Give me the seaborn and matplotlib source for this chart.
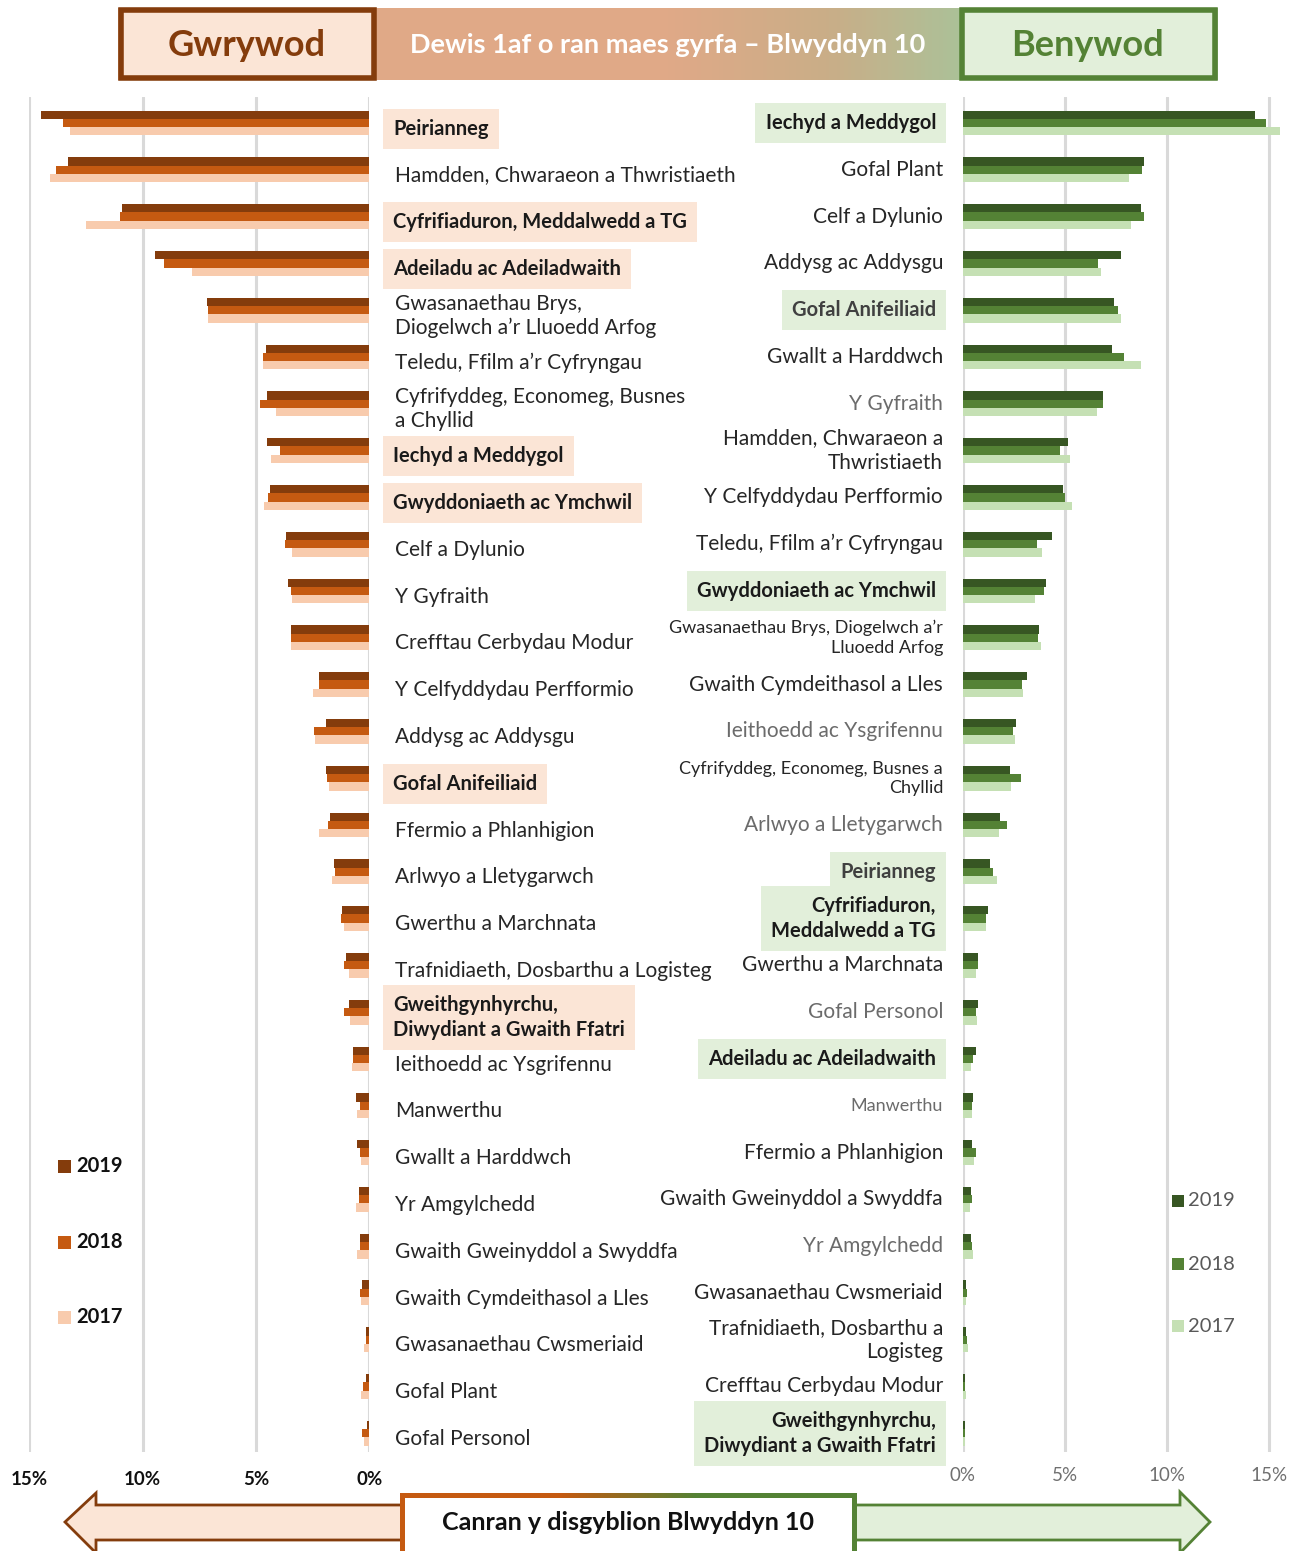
import numpy as np
import pandas as pd
import matplotlib
matplotlib.use("Agg")
import matplotlib.pyplot as plt
import seaborn as sns
from matplotlib.patches import Rectangle, Polygon
from matplotlib.colors import LinearSegmentedColormap
from matplotlib.transforms import blended_transform_factory

years = ["2019", "2018", "2017"]

# Gwrywod (boys), top to bottom
male_cats = ["Peirianneg", "Hamdden, Chwaraeon a Thwristiaeth", "Cyfrifiaduron, Meddalwedd a TG",
             "Adeiladu ac Adeiladwaith", "Gwasanaethau Brys, Diogelwch a’r Lluoedd Arfog",
             "Teledu, Ffilm a’r Cyfryngau", "Cyfrifyddeg, Economeg, Busnes a Chyllid",
             "Iechyd a Meddygol", "Gwyddoniaeth ac Ymchwil", "Celf a Dylunio", "Y Gyfraith",
             "Crefftau Cerbydau Modur", "Y Celfyddydau Perfformio", "Addysg ac Addysgu",
             "Gofal Anifeiliaid", "Ffermio a Phlanhigion", "Arlwyo a Lletygarwch",
             "Gwerthu a Marchnata", "Trafnidiaeth, Dosbarthu a Logisteg",
             "Gweithgynhyrchu, Diwydiant a Gwaith Ffatri", "Ieithoedd ac Ysgrifennu", "Manwerthu",
             "Gwallt a Harddwch", "Yr Amgylchedd", "Gwaith Gweinyddol a Swyddfa",
             "Gwaith Cymdeithasol a Lles", "Gwasanaethau Cwsmeriaid", "Gofal Plant", "Gofal Personol"]
male_labels = ["Peirianneg", "Hamdden, Chwaraeon a Thwristiaeth", "Cyfrifiaduron, Meddalwedd a TG",
               "Adeiladu ac Adeiladwaith", "Gwasanaethau Brys,\nDiogelwch a’r Lluoedd Arfog",
               "Teledu, Ffilm a’r Cyfryngau", "Cyfrifyddeg, Economeg, Busnes\na Chyllid",
               "Iechyd a Meddygol", "Gwyddoniaeth ac Ymchwil", "Celf a Dylunio", "Y Gyfraith",
               "Crefftau Cerbydau Modur", "Y Celfyddydau Perfformio", "Addysg ac Addysgu",
               "Gofal Anifeiliaid", "Ffermio a Phlanhigion", "Arlwyo a Lletygarwch",
               "Gwerthu a Marchnata", "Trafnidiaeth, Dosbarthu a Logisteg",
               "Gweithgynhyrchu,\nDiwydiant a Gwaith Ffatri", "Ieithoedd ac Ysgrifennu", "Manwerthu",
               "Gwallt a Harddwch", "Yr Amgylchedd", "Gwaith Gweinyddol a Swyddfa",
               "Gwaith Cymdeithasol a Lles", "Gwasanaethau Cwsmeriaid", "Gofal Plant", "Gofal Personol"]
male_2019 = [14.5, 13.3, 10.9, 9.45, 7.16, 4.56, 4.52, 4.52, 4.36, 3.68, 3.60, 3.44, 2.23, 1.92, 1.92,
             1.72, 1.57, 1.19, 1.04, 0.89, 0.73, 0.57, 0.53, 0.47, 0.42, 0.31, 0.16, 0.16, 0.10]
male_2018 = [13.5, 13.8, 11.0, 9.04, 7.10, 4.67, 4.83, 3.96, 4.48, 3.74, 3.44, 3.44, 2.23, 2.45, 1.88,
             1.82, 1.51, 1.26, 1.10, 1.10, 0.73, 0.42, 0.42, 0.47, 0.42, 0.42, 0.16, 0.26, 0.31]
male_2017 = [13.2, 14.1, 12.5, 7.84, 7.12, 4.67, 4.11, 4.32, 4.64, 3.39, 3.39, 3.45, 2.49, 2.39, 1.78,
             2.23, 1.66, 1.10, 0.89, 0.84, 0.78, 0.53, 0.37, 0.59, 0.53, 0.37, 0.22, 0.37, 0.22]
male_highlight = ["Peirianneg", "Cyfrifiaduron, Meddalwedd a TG", "Adeiladu ac Adeiladwaith",
                  "Iechyd a Meddygol", "Gwyddoniaeth ac Ymchwil", "Gofal Anifeiliaid",
                  "Gweithgynhyrchu, Diwydiant a Gwaith Ffatri"]

# Benywod (girls), top to bottom
female_cats = ["Iechyd a Meddygol", "Gofal Plant", "Celf a Dylunio", "Addysg ac Addysgu",
               "Gofal Anifeiliaid", "Gwallt a Harddwch", "Y Gyfraith",
               "Hamdden, Chwaraeon a Thwristiaeth", "Y Celfyddydau Perfformio",
               "Teledu, Ffilm a’r Cyfryngau", "Gwyddoniaeth ac Ymchwil",
               "Gwasanaethau Brys, Diogelwch a’r Lluoedd Arfog", "Gwaith Cymdeithasol a Lles",
               "Ieithoedd ac Ysgrifennu", "Cyfrifyddeg, Economeg, Busnes a Chyllid",
               "Arlwyo a Lletygarwch", "Peirianneg", "Cyfrifiaduron, Meddalwedd a TG",
               "Gwerthu a Marchnata", "Gofal Personol", "Adeiladu ac Adeiladwaith", "Manwerthu",
               "Ffermio a Phlanhigion", "Gwaith Gweinyddol a Swyddfa", "Yr Amgylchedd",
               "Gwasanaethau Cwsmeriaid", "Trafnidiaeth, Dosbarthu a Logisteg",
               "Crefftau Cerbydau Modur", "Gweithgynhyrchu, Diwydiant a Gwaith Ffatri"]
female_labels = ["Iechyd a Meddygol", "Gofal Plant", "Celf a Dylunio", "Addysg ac Addysgu",
                 "Gofal Anifeiliaid", "Gwallt a Harddwch", "Y Gyfraith",
                 "Hamdden, Chwaraeon a\nThwristiaeth", "Y Celfyddydau Perfformio",
                 "Teledu, Ffilm a’r Cyfryngau", "Gwyddoniaeth ac Ymchwil",
                 "Gwasanaethau Brys, Diogelwch a’r\nLluoedd Arfog", "Gwaith Cymdeithasol a Lles",
                 "Ieithoedd ac Ysgrifennu", "Cyfrifyddeg, Economeg, Busnes a\nChyllid",
                 "Arlwyo a Lletygarwch", "Peirianneg", "Cyfrifiaduron,\nMeddalwedd a TG",
                 "Gwerthu a Marchnata", "Gofal Personol", "Adeiladu ac Adeiladwaith", "Manwerthu",
                 "Ffermio a Phlanhigion", "Gwaith Gweinyddol a Swyddfa", "Yr Amgylchedd",
                 "Gwasanaethau Cwsmeriaid", "Trafnidiaeth, Dosbarthu a\nLogisteg",
                 "Crefftau Cerbydau Modur", "Gweithgynhyrchu,\nDiwydiant a Gwaith Ffatri"]
female_2019 = [14.32, 8.89, 8.72, 7.74, 7.39, 7.32, 6.86, 5.14, 4.91, 4.39, 4.09, 3.75, 3.16, 2.59,
               2.32, 1.84, 1.32, 1.22, 0.77, 0.77, 0.64, 0.52, 0.46, 0.41, 0.41, 0.16, 0.16, 0.10, 0.10]
female_2018 = [14.84, 8.77, 8.89, 6.64, 7.61, 7.89, 6.86, 4.78, 5.02, 3.64, 3.99, 3.70, 2.89, 2.48,
               2.84, 2.15, 1.50, 1.16, 0.77, 0.64, 0.52, 0.47, 0.64, 0.46, 0.46, 0.23, 0.23, 0.10, 0.10]
female_2017 = [15.52, 8.14, 8.25, 6.75, 7.73, 8.71, 6.57, 5.25, 5.36, 3.86, 3.52, 3.82, 2.95, 2.54,
               2.36, 1.79, 1.68, 1.16, 0.64, 0.68, 0.41, 0.46, 0.57, 0.34, 0.52, 0.16, 0.28, 0.16, 0.10]
female_highlight = ["Iechyd a Meddygol", "Gofal Anifeiliaid", "Gwyddoniaeth ac Ymchwil", "Peirianneg",
                    "Cyfrifiaduron, Meddalwedd a TG", "Adeiladu ac Adeiladwaith",
                    "Gweithgynhyrchu, Diwydiant a Gwaith Ffatri"]
female_grey = ["Y Gyfraith", "Ieithoedd ac Ysgrifennu", "Arlwyo a Lletygarwch", "Peirianneg",
               "Gofal Anifeiliaid", "Gofal Personol", "Manwerthu", "Yr Amgylchedd"]
female_small = ["Gwasanaethau Brys, Diogelwch a’r Lluoedd Arfog",
                "Cyfrifyddeg, Economeg, Busnes a Chyllid", "Manwerthu"]

male_colors = ["#843C0C", "#C55A11", "#F8CBAD"]
female_colors = ["#375623", "#548235", "#C5E0B4"]
brown, green = "#843C0C", "#548235"
peach_bg, green_bg = "#FBE5D6", "#E2EFDA"


def long_form(cats, v19, v18, v17):
    return pd.DataFrame({"cat": cats * 3,
                         "year": [y for y in years for _ in cats],
                         "value": v19 + v18 + v17})


sns.set_theme(style="white")
plt.rcParams['font.family'] = ['Lato', 'DejaVu Sans']

W, H = 1305, 1551
fig = plt.figure(figsize=(W / 100, H / 100), dpi=100)
bottom, height = 1 - 1452 / H, 1355 / H
axL = fig.add_axes([29.3 / W, bottom, 340 / W, height])
axR = fig.add_axes([962.7 / W, bottom, 327 / W, height])

sns.barplot(data=long_form(male_cats, male_2019, male_2018, male_2017), y="cat", x="value",
            hue="year", hue_order=years, order=male_cats, palette=male_colors, orient="h",
            width=0.53, ax=axL, legend=False, saturation=1, linewidth=0)
sns.barplot(data=long_form(female_cats, female_2019, female_2018, female_2017), y="cat", x="value",
            hue="year", hue_order=years, order=female_cats, palette=female_colors, orient="h",
            width=0.53, ax=axR, legend=False, saturation=1, linewidth=0)

axL.set_xlim(15, 0)
axR.set_xlim(0, 16)
for ax in (axL, axR):
    ax.set_ylim(28.4, -0.556)
    ax.set_xticks([0, 5, 10, 15])
    ax.set_xticklabels(["0%", "5%", "10%", "15%"])
    ax.set_yticks([])
    ax.set_xlabel("")
    ax.set_ylabel("")
    for s in ax.spines.values():
        s.set_visible(False)
    ax.grid(axis="x", color="#D9D9D9", lw=2.2)
    ax.set_axisbelow(True)
axL.tick_params(axis="x", length=0, pad=14, labelsize=13.5, labelcolor="#111111")
for t in axL.get_xticklabels():
    t.set_fontweight("bold")
axR.tick_params(axis="x", length=0, pad=11, labelsize=13.5, labelcolor="#707070")

# overlay in pixel coordinates for the decorations
ov = fig.add_axes([0, 0, 1, 1], zorder=5)
ov.set_xlim(0, W)
ov.set_ylim(H, 0)
ov.axis("off")

tL = blended_transform_factory(ov.transData, axL.transData)
tR = blended_transform_factory(ov.transData, axR.transData)

for i, (c, lab) in enumerate(zip(male_cats, male_labels)):
    if c in male_highlight:
        ov.text(393, i + 0.12, lab, transform=tL, ha="left", va="center", fontsize=14.5,
                fontweight="bold", color="#1a1a1a", linespacing=1.3,
                bbox=dict(boxstyle="square,pad=0.5", fc=peach_bg, ec="none"))
    else:
        ov.text(395, i + 0.12, lab, transform=tL, ha="left", va="center", fontsize=15,
                color="#262626", linespacing=1.25)

for i, (c, lab) in enumerate(zip(female_cats, female_labels)):
    col = "#6b6b6b" if c in female_grey else "#262626"
    size = 13 if c in female_small else 15
    if c in female_highlight:
        ov.text(936, i, lab, transform=tR, ha="right", va="center", fontsize=14.5,
                fontweight="bold", color="#404040" if c in female_grey else "#1a1a1a",
                linespacing=1.3, multialignment="right",
                bbox=dict(boxstyle="square,pad=0.5", fc=green_bg, ec="none"))
    else:
        ov.text(943, i, lab, transform=tR, ha="right", va="center", fontsize=size,
                color=col, linespacing=1.25, multialignment="right")

# header bar with gradient
hdr_cmap = LinearSegmentedColormap.from_list(
    "hdr", [(0, "#E0A987"), (0.5, "#E0A987"), (0.65, "#C9AE88"), (0.78, "#A9C39A"), (1, "#A9C39A")])
ov.imshow(np.linspace(0, 1, 300)[None, :], extent=(118, 1218, 80, 8), aspect="auto",
          cmap=hdr_cmap, zorder=1)
ov.add_patch(Rectangle((121, 10), 253, 68, fc=peach_bg, ec=brown, lw=4, zorder=2))
ov.add_patch(Rectangle((962, 10), 253, 68, fc=green_bg, ec=green, lw=4, zorder=2))
ov.text(247, 45, "Gwrywod", ha="center", va="center", fontsize=26, fontweight="bold",
        color=brown, zorder=3)
ov.text(1088, 45, "Benywod", ha="center", va="center", fontsize=26, fontweight="bold",
        color=green, zorder=3)
ov.text(668, 45, "Dewis 1af o ran maes gyrfa – Blwyddyn 10", ha="center", va="center",
        fontsize=19.5, fontweight="bold", color="white", zorder=3)

# bottom arrows
ov.add_patch(Polygon([(402, 1505), (96, 1505), (96, 1493), (65, 1522), (96, 1553),
                      (96, 1540), (402, 1540)], closed=True, fc=peach_bg, ec=brown, lw=2, zorder=1))
ov.add_patch(Polygon([(853, 1505), (1180, 1505), (1180, 1492), (1210, 1522), (1180, 1553),
                      (1180, 1540), (853, 1540)], closed=True, fc=green_bg, ec=green, lw=2, zorder=1))
box_cmap = LinearSegmentedColormap.from_list(
    "box", [(0, "#C55A11"), (0.35, "#C55A11"), (0.65, "#548235"), (1, "#548235")])
ov.imshow(np.linspace(0, 1, 300)[None, :], extent=(400, 857, 1553, 1493), aspect="auto",
          cmap=box_cmap, zorder=2)
ov.add_patch(Rectangle((405, 1498), 447, 60, fc="white", ec="none", zorder=3))
ov.text(628, 1522, "Canran y disgyblion Blwyddyn 10", ha="center", va="center", fontsize=18,
        fontweight="bold", color="#111111", zorder=4)

# legends
for k, (y, yr) in enumerate(zip([1166, 1242, 1317], years)):
    ov.add_patch(Rectangle((58, y - 6.5), 13, 13, fc=male_colors[k], ec="none"))
    ov.text(76, y, yr, ha="left", va="center", fontsize=14.5, fontweight="bold", color="#111111")
for k, (y, yr) in enumerate(zip([1201, 1264, 1326], years)):
    ov.add_patch(Rectangle((1172, y - 6), 11.5, 12, fc=female_colors[k], ec="none"))
    ov.text(1188, y, yr, ha="left", va="center", fontsize=14.5, color="#595959")

ov.set_xlim(0, W)
ov.set_ylim(H, 0)

fig.savefig("out.png", dpi=100)
